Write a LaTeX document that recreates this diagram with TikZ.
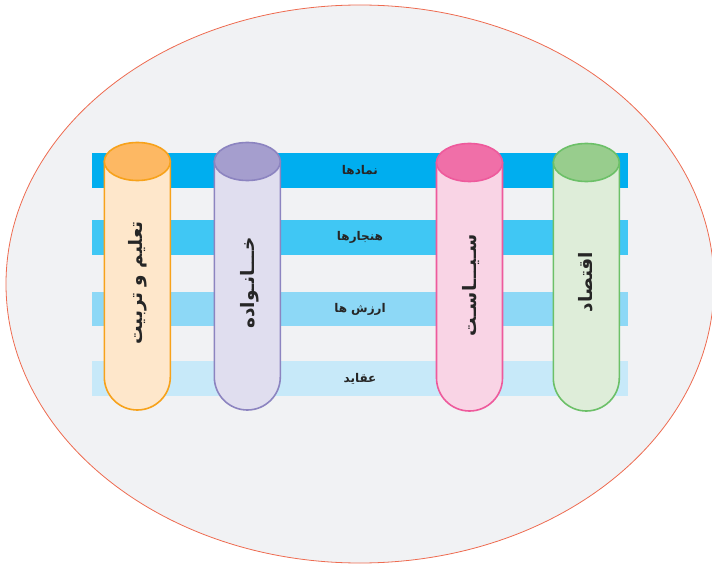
\documentclass[tikz,border=0pt]{standalone}
\usepackage{fontspec}
\newfontfamily\arabicfont[Script=Arabic]{DejaVu Sans}
\TeXXeTstate=1
\usepackage{tikz}
\usetikzlibrary{positioning}
\definecolor{rimred}{HTML}{EE6B50}
\definecolor{platebg}{HTML}{F1F2F4}
\definecolor{bandA}{HTML}{00AEEF}
\definecolor{bandB}{HTML}{40C7F4}
\definecolor{bandC}{HTML}{8DD8F6}
\definecolor{bandD}{HTML}{C7E9F9}
\definecolor{orngline}{HTML}{F7A21B}
\definecolor{orngbody}{HTML}{FEE7CB}
\definecolor{orngtop}{HTML}{FDB863}
\definecolor{purpline}{HTML}{8C84C0}
\definecolor{purpbody}{HTML}{E0DEEF}
\definecolor{purptop}{HTML}{A59ECE}
\definecolor{pinkline}{HTML}{EE5A9C}
\definecolor{pinkbody}{HTML}{F9D4E5}
\definecolor{pinktop}{HTML}{F06FA8}
\definecolor{grenline}{HTML}{6CC068}
\definecolor{grenbody}{HTML}{DEEDD9}
\definecolor{grentop}{HTML}{98CD8D}
\tikzset{
	bandbox/.style={
		rectangle,
		minimum width=536pt,
		minimum height=34.5pt,
		inner sep=0pt,
		text=black!85,
		font=\arabicfont\bfseries\fontsize{12}{14}\selectfont},
	tubewall/.style={line width=1.6pt},
	tubelabel/.style={
		rotate=90,
		inner sep=0pt,
		text=black!85,
		font=\arabicfont\bfseries\fontsize{18.5}{20}\selectfont},
}

\begin{document}
\begin{tikzpicture}
	[x=1pt,y=1pt]
	
	\useasboundingbox (0,0) rectangle (712,566);
	\filldraw[fill=platebg, draw=rimred, line width=0.8pt] (360,282) ellipse [x radius=354, y radius=279];
	
	% bands
	\node[bandbox, fill=bandA] (nemad)   at (360,395.7) {\beginR نمادها\endR};
	\node[bandbox, fill=bandB] (hanjar)  at (360,328.5) {\beginR هنجارها\endR};
	\node[bandbox, fill=bandC] (arzesh)  at (360,256.8) {\beginR ارزش ها\endR};
	\node[bandbox, fill=bandD] (aghayed) at (360,187.5) {\beginR عقاید\endR};
	
	% tubes
	\filldraw[tubewall, draw=orngline, fill=orngbody] (104.3,404.5) -- (104.3,189) arc[start angle=180, end angle=360, radius=33] -- (170.3,404.5) -- cycle;
	\filldraw[tubewall, draw=orngline, fill=orngtop] (137.3,404.5) ellipse [x radius=33, y radius=19];
	\filldraw[tubewall, draw=purpline, fill=purpbody] (214.3,404.5) -- (214.3,189) arc[start angle=180, end angle=360, radius=33] -- (280.3,404.5) -- cycle;
	\filldraw[tubewall, draw=purpline, fill=purptop] (247.3,404.5) ellipse [x radius=33, y radius=19];
	\filldraw[tubewall, draw=pinkline, fill=pinkbody] (436.5,403.5) -- (436.5,188) arc[start angle=180, end angle=360, radius=33] -- (502.5,403.5) -- cycle;
	\filldraw[tubewall, draw=pinkline, fill=pinktop] (469.5,403.5) ellipse [x radius=33, y radius=19];
	\filldraw[tubewall, draw=grenline, fill=grenbody] (553.3,403.5) -- (553.3,188) arc[start angle=180, end angle=360, radius=33] -- (619.3,403.5) -- cycle;
	\filldraw[tubewall, draw=grenline, fill=grentop] (586.3,403.5) ellipse [x radius=33, y radius=19];
	
	\node[tubelabel] (talim)    at (138,283) {\beginR تعلیم و تربیت\endR};
	\node[tubelabel] (khanevade) at (250,283) {\beginR خـــانـواده\endR};
	\node[tubelabel] (siasat)   at (471,281) {\beginR سـیـــاسـت\endR};
	\node[tubelabel] (eghtesad) at (586,284) {\beginR اقتصاد\endR};
	
\end{tikzpicture}
\end{document}
